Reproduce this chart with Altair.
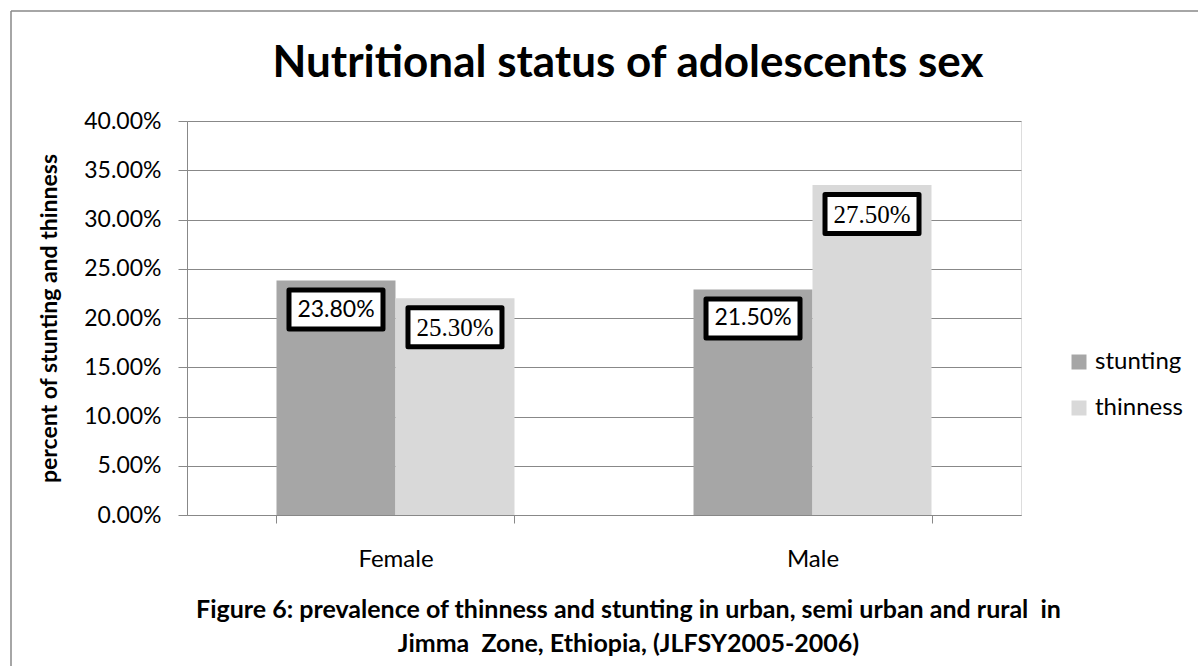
import altair as alt
import pandas as pd

# Grouped bars: stunting vs thinness by sex
sexes = ["Female", "Male"]
series = ["stunting", "thinness"]
stunting = [0.238, 0.229]
thinness = [0.220, 0.335]
# boxed annotations shown on each bar, in the same order as the bars
annotations = [0.238, 0.253, 0.215, 0.275]
colors = ["#A6A6A6", "#D9D9D9"]
y_ticks = [0.0, 0.05, 0.10, 0.15, 0.20, 0.25, 0.30, 0.35, 0.40]

chart_title = "Nutritional status of adolescents sex"
caption = ["Figure 6: prevalence of thinness and stunting in urban, semi urban and rural \u00a0in",
           "Jimma \u00a0Zone, Ethiopia, (JLFSY2005-2006)"]

rows = []
i = 0
for s_idx, sex in enumerate(sexes):
    for name, vals in (("stunting", stunting), ("thinness", thinness)):
        rows.append({"sex": sex, "series": name, "value": vals[s_idx],
                     "note": annotations[i]})
        i += 1
df = pd.DataFrame(rows)

GRID = "#888888"
FONT = "Lato"

x_enc = alt.X(
    "sex:N", sort=sexes,
    scale=alt.Scale(paddingInner=0.4293, paddingOuter=0.2146),
    axis=alt.Axis(
        title=caption,
        titleFont=FONT, titleFontSize=25, titleFontWeight="bold", titleColor="black",
        titleLineHeight=34, titleX=441, titleY=82, titleBaseline="top", titleAlign="center",
        labelAngle=0, labelFont=FONT, labelFontSize=24, labelColor="black", labelPadding=24,
        tickBand="extent", tickSize=8, tickColor=GRID, domainColor=GRID, grid=False,
    ),
)
xo_enc = alt.XOffset("series:N", sort=series, scale=alt.Scale(paddingInner=0, paddingOuter=0))
y_enc = alt.Y(
    "value:Q",
    scale=alt.Scale(domain=[0, 0.4], nice=False),
    axis=alt.Axis(
        values=y_ticks, format=".2%",
        title="percent of stunting and thinness",
        titleFont=FONT, titleFontSize=23, titleFontWeight="bold", titleColor="black",
        titleX=-138, titleY=197, titleAngle=-90, titleAlign="center", titleBaseline="middle",
        labelFont=FONT, labelFontSize=23, labelColor="black", labelPadding=17,
        tickSize=9, tickColor=GRID, domainColor=GRID,
        grid=True, gridColor=GRID, gridWidth=1,
    ),
)

base = alt.Chart(df)

bars = base.mark_bar().encode(
    x=x_enc, xOffset=xo_enc, y=y_enc,
    color=alt.Color(
        "series:N", sort=series,
        scale=alt.Scale(domain=series, range=colors),
        legend=alt.Legend(
            title=None, orient="none", legendX=880, legendY=229,
            symbolType="square", symbolSize=225, symbolStrokeWidth=0,
            labelFont=FONT, labelFontSize=24, labelColor="black",
            labelOffset=4, rowPadding=22, padding=0,
        ),
    ),
)

box_path = "M -1 -0.415 L 1 -0.415 L 1 0.415 L -1 0.415 Z"
boxes = base.mark_point(
    shape=box_path, size=8836, fill="white", fillOpacity=1,
    stroke="black", strokeWidth=5, strokeJoin="round", opacity=1, yOffset=29,
).encode(x=x_enc, xOffset=xo_enc, y=y_enc)

sans_text = base.transform_filter(alt.datum.series == "stunting").mark_text(
    font=FONT, fontSize=23, color="black", baseline="middle", yOffset=29,
).encode(x=x_enc, xOffset=xo_enc, y=y_enc, text=alt.Text("note:Q", format=".2%"))

serif_text = base.transform_filter(alt.datum.series == "thinness").mark_text(
    font="Liberation Serif", fontSize=25, color="black", baseline="middle", yOffset=30,
).encode(x=x_enc, xOffset=xo_enc, y=y_enc, text=alt.Text("note:Q", format=".2%"))

one = pd.DataFrame({"label": [chart_title]})

# Chart heading, centred over the whole chart frame
heading = alt.Chart(one).mark_text(
    font=FONT, fontSize=44, fontWeight="bold", color="black",
    align="center", baseline="alphabetic",
).encode(x=alt.value(441), y=alt.value(-44), text="label:N")

frame_left = alt.Chart(one).mark_rule(color=GRID, strokeWidth=1.5).encode(
    x=alt.value(-176), y=alt.value(-110), y2=alt.value(560)
)
frame_top = alt.Chart(one).mark_rule(color=GRID, strokeWidth=1.5).encode(
    x=alt.value(-176), x2=alt.value(1020), y=alt.value(-110)
)

chart = alt.layer(frame_left, frame_top, bars, boxes, sans_text, serif_text, heading).properties(
    width=834, height=394,
    autosize=alt.AutoSizeParams(type="none"),
    padding={"left": 187, "top": 121, "right": 177, "bottom": 151},
).configure_view(stroke=None).configure(background="white")

chart.save("out.html", embed_options={"renderer": "svg", "actions": False})
